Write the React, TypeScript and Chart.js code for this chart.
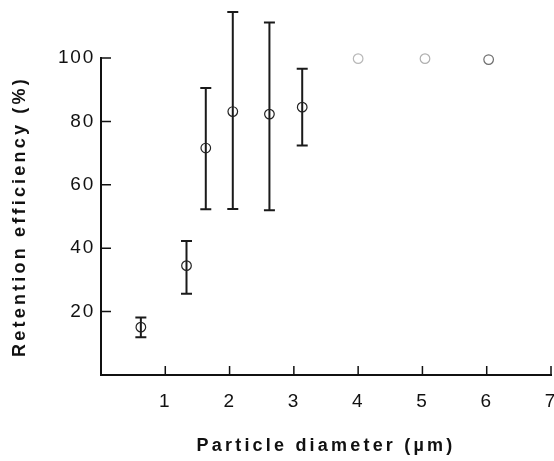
import React, { useEffect, useRef } from 'react';
import { Chart, registerables } from 'chart.js';

Chart.register(...registerables);

// Data
const diameters = [0.62, 1.33, 1.63, 2.05, 2.62, 3.13, 4.0, 5.04, 6.03];
const efficiency = [15.1, 34.5, 71.6, 83.1, 82.3, 84.5, 99.8, 99.8, 99.5];
const errorHigh: (number | null)[] = [18.1, 42.3, 90.5, 114.5, 111.2, 96.6, null, null, null];
const errorLow: (number | null)[] = [11.9, 25.6, 52.3, 52.4, 52.0, 72.4, null, null, null];
const pointColors = ['#222222', '#222222', '#222222', '#222222', '#222222', '#222222', '#b8b8b8', '#b0b0b0', '#6e6e6e'];
const xTicks = [1, 2, 3, 4, 5, 6, 7];
const yTicks = [20, 40, 60, 80, 100];

const FONT = "'Liberation Sans', Arial, Helvetica, sans-serif";

// Titles are drawn before datasets (grid layer), tick labels after (ticks.z = 1)
const spacingPlugin = {
  id: 'letterSpacing',
  beforeDraw(chart: any) {
    (chart.ctx as any).letterSpacing = '3.2px';
  },
  afterDatasetsDraw(chart: any) {
    (chart.ctx as any).letterSpacing = '1.8px';
  },
};

const errorBarPlugin = {
  id: 'errorBars',
  beforeDatasetsDraw(chart: any) {
    const { ctx, scales } = chart;
    const x = scales.x;
    const y = scales.y;
    ctx.save();
    ctx.strokeStyle = '#1a1a1a';
    ctx.lineWidth = 2;
    diameters.forEach((d, i) => {
      const hi = errorHigh[i];
      const lo = errorLow[i];
      if (hi == null || lo == null) return;
      const px = x.getPixelForValue(d);
      const top = y.getPixelForValue(hi);
      const bot = y.getPixelForValue(lo);
      ctx.beginPath();
      ctx.moveTo(px, top);
      ctx.lineTo(px, bot);
      ctx.moveTo(px - 5.5, top);
      ctx.lineTo(px + 5.5, top);
      ctx.moveTo(px - 5.5, bot);
      ctx.lineTo(px + 5.5, bot);
      ctx.stroke();
    });
    ctx.restore();
  },
};

const inwardTicksPlugin = {
  id: 'inwardTicks',
  afterDatasetsDraw(chart: any) {
    const { ctx, chartArea, scales } = chart;
    const x = scales.x;
    const y = scales.y;
    ctx.save();
    ctx.strokeStyle = '#111111';
    ctx.lineWidth = 1.5;
    ctx.beginPath();
    xTicks.forEach((v) => {
      const px = x.getPixelForValue(v);
      ctx.moveTo(px, chartArea.bottom);
      ctx.lineTo(px, chartArea.bottom - 9);
    });
    yTicks.forEach((v) => {
      const py = y.getPixelForValue(v);
      ctx.moveTo(chartArea.left, py);
      ctx.lineTo(chartArea.left + 10, py);
    });
    ctx.stroke();
    ctx.restore();
  },
};

export default function App() {
  const canvasRef = useRef<HTMLCanvasElement | null>(null);

  useEffect(() => {
    document.body.style.margin = '0';
    const canvas = canvasRef.current;
    if (!canvas) return;
    const chart = new Chart(canvas, {
      type: 'scatter',
      data: {
        datasets: [
          {
            label: 'Retention efficiency',
            data: diameters.map((d, i) => ({ x: d, y: efficiency[i] })),
            pointStyle: 'circle',
            pointRadius: 4.8,
            pointBorderWidth: 1.2,
            pointBorderColor: pointColors,
            pointBackgroundColor: 'rgba(0,0,0,0)',
            showLine: false,
            clip: false as any,
          },
        ],
      },
      plugins: [errorBarPlugin, inwardTicksPlugin, spacingPlugin],
      options: {
        animation: false,
        responsive: false,
        layout: { autoPadding: false, padding: { top: 58, right: 3, left: 0, bottom: 0 } },
        plugins: {
          legend: { display: false },
          tooltip: { enabled: false },
        },
        scales: {
          x: {
            type: 'linear',
            min: 0,
            max: 7,
            grid: { display: false, drawTicks: false },
            border: { display: true, color: '#111111', width: 2 },
            ticks: {
              z: 1,
              stepSize: 1,
              autoSkip: false,
              maxRotation: 0,
              padding: 15,
              color: '#111111',
              font: { family: FONT, size: 19 },
              callback: (v: any) => (v === 0 ? '' : String(v)),
            },
            title: {
              display: true,
              text: 'Particle diameter (µm)',
              color: '#111111',
              font: { family: FONT, size: 18, weight: 'bold' },
              padding: { top: 0, bottom: 4 },
            },
            afterFit: (scale: any) => {
              scale.height = 86;
              scale.paddingLeft = 0;
              scale.paddingRight = 0;
            },
          },
          y: {
            type: 'linear',
            min: 0,
            max: 100,
            grid: { display: false, drawTicks: false },
            border: { display: true, color: '#111111', width: 2 },
            ticks: {
              z: 1,
              stepSize: 20,
              autoSkip: false,
              padding: 6,
              color: '#111111',
              font: { family: FONT, size: 19 },
              callback: (v: any) => (v === 0 ? '' : String(v)),
            },
            title: {
              display: true,
              text: 'Retention efficiency (%)',
              color: '#111111',
              font: { family: FONT, size: 18, weight: 'bold' },
              padding: { top: 9, bottom: 0 },
            },
            afterFit: (scale: any) => {
              scale.width = 101;
              scale.paddingTop = 0;
              scale.paddingBottom = 0;
            },
          },
        },
      },
    });
    return () => chart.destroy();
  }, []);

  return (
    <div style={{ width: 554, height: 461, background: '#ffffff' }}>
      <canvas ref={canvasRef} width={554} height={461} />
    </div>
  );
}
